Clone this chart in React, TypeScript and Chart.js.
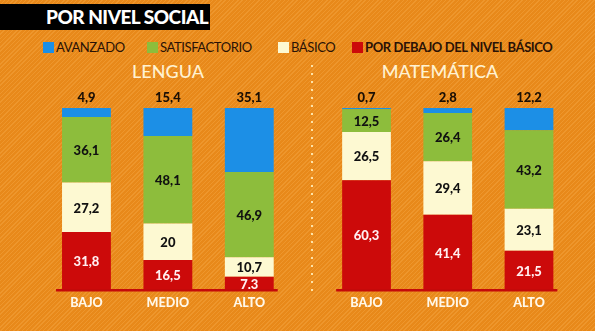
import React, { useEffect, useRef } from "react";
import { Chart, registerables } from "chart.js";

Chart.register(...registerables);

const categories = ["BAJO", "MEDIO", "ALTO"];
const seriesNames = ["POR DEBAJO DEL NIVEL BÁSICO", "BÁSICO", "SATISFACTORIO", "AVANZADO"];
const seriesColors = ["#cc0a0a", "#fdf9d2", "#8dbd3c", "#1c8fe6"];

const lenguaDebajo = [31.8, 16.5, 7.3];
const lenguaBasico = [27.2, 20, 10.7];
const lenguaSatisf = [36.1, 48.1, 46.9];
const lenguaAvanz = [4.9, 15.4, 35.1];

const mateDebajo = [60.3, 41.4, 21.5];
const mateBasico = [26.5, 29.4, 23.1];
const mateSatisf = [12.5, 26.4, 43.2];
const mateAvanz = [0.7, 2.8, 12.2];

const fmt = (v: number) => String(v).replace(".", ",");

const labelPlugin = {
  id: "labels",
  afterDatasetsDraw(chart: any) {
    const ctx = chart.ctx;
    ctx.save();
    ctx.textAlign = "center";
    ctx.textBaseline = "middle";
    ctx.font = "900 13px Lato";
    const n = chart.data.datasets.length;
    chart.data.datasets.forEach((ds: any, di: number) => {
      const meta = chart.getDatasetMeta(di);
      meta.data.forEach((bar: any, i: number) => {
        const v = ds.data[i];
        if (di === n - 1) {
          ctx.fillStyle = "#1a0f05";
          ctx.fillText(fmt(v), bar.x, bar.y - 10);
        } else {
          const y = (bar.y + bar.base) / 2;
          ctx.fillStyle = di === 0 ? "#ffeef0" : "#111";
          ctx.fillText(fmt(v), bar.x, y + 1);
        }
      });
    });
    const first = chart.getDatasetMeta(0).data[0];
    const last = chart.getDatasetMeta(0).data[chart.data.labels.length - 1];
    const yb = chart.scales.y.getPixelForValue(0);
    ctx.fillStyle = "#c40a0a";
    const x0 = first.x - first.width / 2 - 6;
    const x1 = last.x + last.width / 2 + 4;
    ctx.fillRect(x0, yb - 1, x1 - x0, 2.5);
    ctx.fillStyle = "#fff8ea";
    ctx.font = "900 12.5px Lato";
    chart.data.labels.forEach((l: string, i: number) => {
      ctx.fillText(l, chart.scales.x.getPixelForValue(i), yb + 13);
    });
    ctx.restore();
  },
};

function Panel({ data, left, width, padL, padR }: any) {
  const ref = useRef<HTMLCanvasElement>(null);
  useEffect(() => {
    const chart = new Chart(ref.current!, {
      type: "bar",
      data: {
        labels: categories,
        datasets: data.map((d: number[], i: number) => ({
          label: seriesNames[i],
          data: d,
          backgroundColor: seriesColors[i],
          borderWidth: 0,
          barPercentage: 0.6,
          categoryPercentage: 1,
        })),
      },
      options: {
        animation: false,
        responsive: false,
        maintainAspectRatio: false,
        layout: { padding: { left: padL, right: padR, top: 28, bottom: 40 } },
        plugins: { legend: { display: false }, tooltip: { enabled: false } },
        scales: {
          x: { stacked: true, display: false },
          y: { stacked: true, display: false, min: 0, max: 100 },
        },
      },
      plugins: [labelPlugin],
    });
    return () => chart.destroy();
  }, []);
  return (
    <canvas
      ref={ref}
      width={width}
      height={250}
      style={{ position: "absolute", left, top: 80, width, height: 250 }}
    />
  );
}

export default function App() {
  const legend = [
    { name: "AVANZADO", color: seriesColors[3], x: 43, bold: false },
    { name: "SATISFACTORIO", color: seriesColors[2], x: 147, bold: false },
    { name: "BÁSICO", color: seriesColors[1], x: 278, bold: false },
    { name: "POR DEBAJO DEL NIVEL BÁSICO", color: seriesColors[0], x: 352, bold: true },
  ];
  return (
    <div
      style={{
        position: "fixed",
        left: 0,
        top: 0,
        width: 595,
        height: 331,
        overflow: "hidden",
        backgroundColor: "#e8891a",
        backgroundImage:
          "repeating-linear-gradient(135deg, rgba(255,190,100,0.25) 0px, rgba(255,190,100,0.25) 1px, rgba(0,0,0,0) 1px, rgba(0,0,0,0) 3px)",
        fontFamily: "Lato, sans-serif",
      }}
    >
      <div
        style={{
          position: "absolute",
          left: 0,
          top: 4,
          width: 210,
          height: 26,
          background: "#000",
        }}
      />
      <div
        style={{
          position: "absolute",
          left: 46,
          top: 4,
          height: 26,
          lineHeight: "26px",
          color: "#fff",
          fontWeight: 900,
          fontSize: 19,
          letterSpacing: -0.5,
          whiteSpace: "nowrap",
        }}
      >
        POR NIVEL SOCIAL
      </div>
      {legend.map((l) => (
        <div key={l.name}>
          <div
            style={{
              position: "absolute",
              left: l.x,
              top: 42,
              width: 11,
              height: 11,
              background: l.color,
            }}
          />
          <div
            style={{
              position: "absolute",
              left: l.x + 13,
              top: 39,
              lineHeight: "17px",
              fontSize: 13,
              fontWeight: l.bold ? 700 : 400,
              color: "#2a1206",
              whiteSpace: "nowrap",
              letterSpacing: -0.4,
            }}
          >
            {l.name}
          </div>
        </div>
      ))}
      <div
        style={{
          position: "absolute",
          left: 68,
          width: 200,
          top: 60,
          textAlign: "center",
          fontSize: 18,
          lineHeight: "22px",
          fontWeight: 500,
          color: "#fff2d2",
        }}
      >
        LENGUA
      </div>
      <div
        style={{
          position: "absolute",
          left: 340,
          width: 200,
          top: 60,
          textAlign: "center",
          fontSize: 18,
          lineHeight: "22px",
          fontWeight: 500,
          color: "#fff2d2",
        }}
      >
        MATEMÁTICA
      </div>
      <div
        style={{
          position: "absolute",
          left: 311,
          top: 65,
          width: 2,
          height: 226,
          backgroundImage:
            "repeating-linear-gradient(180deg, #fde3a8 0px, #fde3a8 2px, rgba(0,0,0,0) 2px, rgba(0,0,0,0) 8px)",
        }}
      />
      <Panel
        data={[lenguaDebajo, lenguaBasico, lenguaSatisf, lenguaAvanz]}
        left={0}
        width={310}
        padL={45.75}
        padR={20}
      />
      <Panel
        data={[mateDebajo, mateBasico, mateSatisf, mateAvanz]}
        left={310}
        width={285}
        padL={15.9}
        padR={25.4}
      />
    </div>
  );
}
